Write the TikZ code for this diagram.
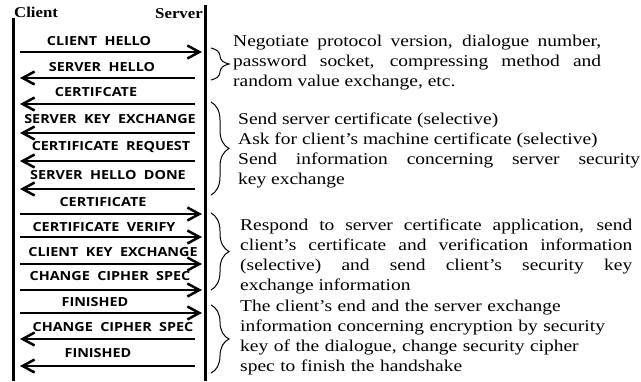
\documentclass[tikz,border=0pt]{standalone}
\usepackage{fontspec}
\setmainfont{Liberation Serif}
\newfontfamily\msgfont{Open Sans}[FakeStretch=1.15,WordSpace=2]
\newfontfamily\notefont{Liberation Serif}[FakeStretch=1.18]
\newfontfamily\headfont{Liberation Serif}[FakeStretch=1.12]
\usetikzlibrary{arrows.meta,decorations.pathreplacing}
\hyphenpenalty=10000
\exhyphenpenalty=10000

\begin{document}
\begin{tikzpicture}[x=1pt,y=-1pt,>={Straight Barb[length=12pt,width=13pt]},
  msg/.style={->,line width=2.5pt},
  life/.style={line width=3pt},
  head/.style={font=\headfont\bfseries\fontsize{15}{17}\selectfont,inner sep=0pt},
  msgtext/.style={font=\msgfont\bfseries\fontsize{12.5}{14}\selectfont,inner sep=0pt},
  notetext/.style={font=\notefont\fontsize{16.5}{20}\selectfont,anchor=north west,inner sep=0pt},
  bracket/.style={decorate,decoration={brace,amplitude=18pt},line width=1pt}]

  \useasboundingbox (0,0) rectangle (641,381);

  \node[head,anchor=west] (client) at (14,12) {Client};
  \node[head,anchor=east] (server) at (203,14) {Server};

  \coordinate (ctop) at (13,18);
  \coordinate (cbot) at (13,381);
  \coordinate (stop) at (205,5);
  \coordinate (sbot) at (205,381);
  \draw[life] (ctop) -- (cbot);
  \draw[life] (stop) -- (sbot);

  \foreach \n/\ya/\xs/\xe/\xl/\yl/\txt in {
    1/52/20/202/99/41/{CLIENT HELLO},
    2/78/195/20/102/67/{SERVER HELLO},
    3/104/195/20/96/92/CERTIFCATE,
    4/133/195/20/110/119/{SERVER KEY EXCHANGE},
    5/161/195/20/111/147/{CERTIFICATE REQUEST},
    6/189/195/20/108/175/{SERVER HELLO DONE},
    7/214/20/202/103/202/CERTIFICATE,
    8/237/20/202/104/227/{CERTIFICATE VERIFY},
    9/264/20/202/113/252/{CLIENT KEY EXCHANGE},
    10/290/20/202/110/276/{CHANGE CIPHER SPEC},
    11/313/20/202/95/302/FINISHED,
    12/339/195/20/113/327/{CHANGE CIPHER SPEC},
    13/366/195/20/98/353/FINISHED} {
    \coordinate (a\n) at (\xs,\ya);
    \coordinate (b\n) at (\xe,\ya);
    \node[msgtext] (m\n) at (\xl,\yl) {\txt};
    \draw[msg] (a\n) -- (b\n);
  }

  \draw[bracket] (211,48) -- (211,80);
  \draw[bracket] (211,102) -- (211,195);
  \draw[bracket] (211,213) -- (211,290);
  \draw[bracket] (211,305) -- (211,373);

  \node[notetext,text width=368pt,align=justify] (n1) at (233,35)
    {Negotiate protocol version, dialogue number,\linebreak password socket, compressing method and\linebreak random value exchange, etc.};
  \node[notetext,text width=402pt,align=justify] (n2) at (238,113)
    {Send server certificate (selective)\\Ask for client’s machine certificate (selective)\\Send information concerning server security\linebreak key exchange};
  \node[notetext,text width=392pt,align=justify] (n3) at (240,219)
    {Respond to server certificate application, send\linebreak client’s certificate and verification information\linebreak (selective) and send client’s security key\linebreak exchange information};
  \node[notetext,text width=392pt,align=left] (n4) at (240,300)
    {The client’s end and the server exchange\\information concerning encryption by security\\key of the dialogue, change security cipher\\spec to finish the handshake};
\end{tikzpicture}
\end{document}
